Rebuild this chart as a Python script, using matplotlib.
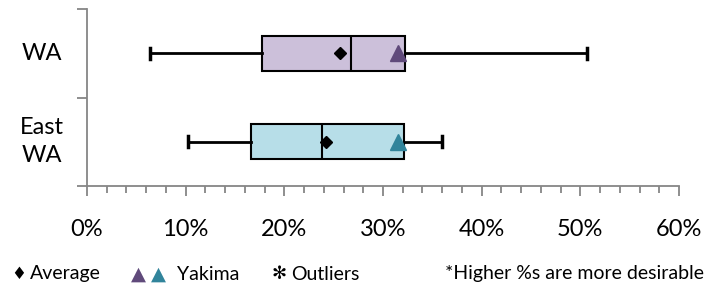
import matplotlib
matplotlib.use("Agg")
import matplotlib.pyplot as plt
from matplotlib.ticker import MultipleLocator, PercentFormatter

# datos (en %)
regiones = ["East\nWA", "WA"]
minimos = [10.2, 6.4]
q1 = [16.6, 17.7]
medianas = [23.8, 26.8]
q3 = [32.1, 32.2]
maximos = [36.0, 50.7]
promedios = [24.2, 25.6]
yakima = [31.5, 31.5]

colores_caja = ["#B7DEE8", "#CCC0DA"]
colores_yakima = ["#31849B", "#604A7B"]
gris = "#868686"

plt.rcParams['font.family'] = ['Lato', 'DejaVu Sans']

fig = plt.figure(figsize=(7.18, 2.87), dpi=100)
ax = fig.add_axes([87/718, 1 - 186/287, (679 - 87)/718, (186 - 9)/287])

posiciones = [0.5, 1.5]
stats = []
for i in range(len(regiones)):
    stats.append(dict(whislo=minimos[i], q1=q1[i], med=medianas[i], q3=q3[i],
                      whishi=maximos[i], mean=promedios[i], fliers=[]))

cajas = ax.bxp(stats, positions=posiciones, vert=False, widths=0.4,
               capwidths=0.12, patch_artist=True, showmeans=True,
               boxprops=dict(linewidth=1.5, edgecolor='black'),
               medianprops=dict(color='black', linewidth=1.5),
               whiskerprops=dict(color='black', linewidth=2),
               capprops=dict(color='black', linewidth=2.5),
               meanprops=dict(marker='D', markerfacecolor='black',
                              markeredgecolor='black', markersize=6))
for caja, c in zip(cajas['boxes'], colores_caja):
    caja.set_facecolor(c)

# marcadores de Yakima
for y, v, c in zip(posiciones, yakima, colores_yakima):
    ax.plot(v, y, marker='^', color=c, markersize=12, zorder=5)

ax.set_xlim(0, 60)
ax.set_ylim(0, 2)
ax.xaxis.set_major_locator(MultipleLocator(10))
ax.xaxis.set_minor_locator(MultipleLocator(2))
ax.xaxis.set_major_formatter(PercentFormatter(decimals=0))
ax.set_yticks([0, 1, 2])
ax.set_yticklabels([])
ax.tick_params(axis='x', which='major', length=7, width=1.3, color=gris,
               pad=17, labelsize=17)
ax.tick_params(axis='x', which='minor', length=5, width=1.3, color=gris)
ax.tick_params(axis='y', length=7, width=1.3, color=gris)

for lado in ['top', 'right']:
    ax.spines[lado].set_visible(False)
for lado in ['left', 'bottom']:
    ax.spines[lado].set_color(gris)
    ax.spines[lado].set_linewidth(1.3)

for y, nombre in zip(posiciones, regiones):
    ax.text(-0.076, y, nombre, transform=ax.get_yaxis_transform(),
            ha='center', va='center', fontsize=17, linespacing=1.4)

# leyenda de texto abajo
yl = 1 - 274/287
fig.text(11/718, yl, "\u2666", fontsize=12, va='center')
fig.text(30/718, yl, "Average", fontsize=14, va='center')
fig.text(131/718, yl, "\u25B2", color=colores_yakima[1], fontsize=14, va='center')
fig.text(151/718, yl, "\u25B2", color=colores_yakima[0], fontsize=14, va='center')
fig.text(177/718, yl, "Yakima", fontsize=14, va='center')
fig.text(272/718, yl, "\u273B", fontsize=13, va='center')
fig.text(291/718, yl, "Outliers", fontsize=14, va='center')
fig.text(445/718, yl, "*Higher %s are more desirable", fontsize=14,
         va='center', ha='left')

fig.savefig("out.png", dpi=100)
